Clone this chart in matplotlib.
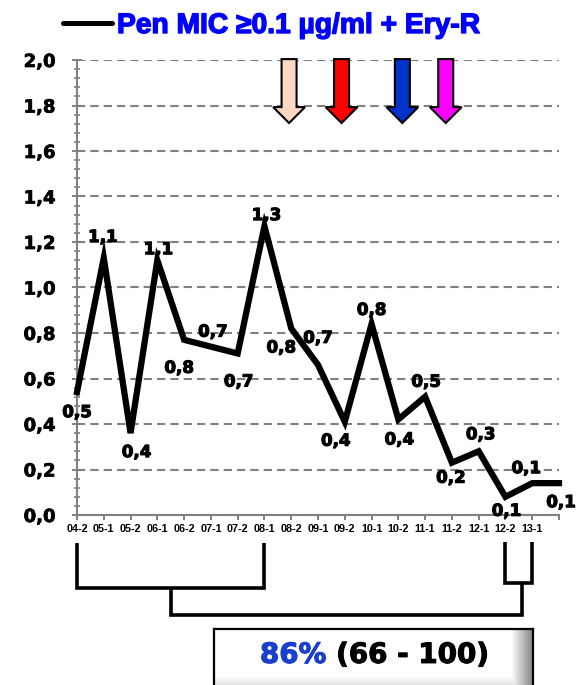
import numpy as np
import matplotlib
matplotlib.use("Agg")
import matplotlib.pyplot as plt
from matplotlib.lines import Line2D
from matplotlib.patches import Polygon
from matplotlib.ticker import MultipleLocator
import matplotlib.transforms as mtransforms
import matplotlib.patheffects as pe

# ---- data ---------------------------------------------------------------
periods = ["04-2", "05-1", "05-2", "06-1", "06-2", "07-1", "07-2", "08-1",
           "08-2", "09-1", "09-2", "10-1", "10-2", "11-1", "11-2", "12-1",
           "12-2", "13-1", ""]
rate = [0.54, 1.13, 0.36, 1.12, 0.77, 0.74, 0.71, 1.27, 0.82, 0.66,
        0.41, 0.84, 0.42, 0.52, 0.23, 0.28, 0.08, 0.14, 0.14]
# offsets of the value labels from their points (pixels, x right / y up)
label_dx = [0, -1, 6, 1, -5, 2, 1, 2, -10, 0, -9, 0, 1, 1, -1, 2, 1, -6, 2]
label_dy = [-20, 21, -19, 11, -28, 15, -28, 11, -19, 27, -19, 14, -20, 15, -15, 17, -14, 15, -19]

# intervention arrows (position on the period axis, fill colour)
arrow_pos = [7.92, 9.88, 12.15, 13.77]
arrow_col = ["#FFD8C4", "#FF0000", "#0033CC", "#FF00FF"]

title = "Pen MIC \u22650.1 \u00b5g/ml + Ery-R"
pct_main = "86%"
pct_ci = " (66 - 100)"

W, H = 587, 685
GRAY = "#808080"

fig = plt.figure(figsize=(W / 100, H / 100), dpi=100)
fig.patch.set_facecolor("white")


def fx(px):
    return px / W


def fy(py):
    return 1 - py / H


def heavy(color, w=0.7):
    return [pe.withStroke(linewidth=w, foreground=color)]


ax = fig.add_axes([fx(77), fy(515), fx(559) - fx(77), fy(60) - fy(515)])
x = np.arange(len(rate))

ax.plot(x, rate, color="black", lw=4.5, solid_joinstyle="miter", zorder=3, clip_on=False)

for xi, v, dx, dy in zip(x, rate, label_dx, label_dy):
    ax.annotate(f"{v:.1f}".replace(".", ","), (xi, v),
                xytext=(dx * 0.72, dy * 0.72), textcoords="offset points",
                ha="center", va="center", fontsize=12, fontweight="bold",
                family="DejaVu Sans", color="black", zorder=4,
                annotation_clip=False, path_effects=heavy("black", 0.8))

ax.set_xlim(0, len(rate) - 1)
ax.set_ylim(0, 2.0)
ax.set_xticks(x)
ax.set_xticklabels(periods, fontsize=7.8, fontweight="bold", family="Liberation Sans")
ax.yaxis.set_major_locator(MultipleLocator(0.2))
ax.yaxis.set_minor_locator(MultipleLocator(0.04))
ax.yaxis.set_major_formatter(matplotlib.ticker.FuncFormatter(
    lambda v, p: f"{v:.1f}".replace(".", ",")))
ax.tick_params(axis="y", which="major", direction="inout", length=7, width=1.4,
               color=GRAY, pad=12, labelsize=13)
ax.tick_params(axis="y", which="minor", direction="inout", length=5, width=1.2, color=GRAY)
ax.tick_params(axis="x", which="major", direction="out", length=3.6, width=1.4,
               color=GRAY, pad=3)
for t in ax.get_yticklabels():
    t.set_fontweight("bold")
    t.set_family("DejaVu Sans")
    t.set_path_effects(heavy("black", 0.5))

for s in ("top", "right"):
    ax.spines[s].set_visible(False)
for s in ("left", "bottom"):
    ax.spines[s].set_color(GRAY)
    ax.spines[s].set_linewidth(1.5)

ax.yaxis.grid(True, color=GRAY, linestyle=(0, (4, 2.4)), linewidth=1.5)
ax.set_axisbelow(True)

# intervention arrows
shaft_w, head_w = 0.56, 1.19
y_top, y_neck, y_tip = 2.004, 1.793, 1.723
for xc, col in zip(arrow_pos, arrow_col):
    pts = [(xc - shaft_w / 2, y_top), (xc + shaft_w / 2, y_top),
           (xc + shaft_w / 2, y_neck), (xc + head_w / 2, y_neck),
           (xc, y_tip), (xc - head_w / 2, y_neck), (xc - shaft_w / 2, y_neck)]
    ax.add_patch(Polygon(pts, closed=True, facecolor=col, edgecolor="black",
                         lw=1.5, zorder=5, clip_on=False))

# brackets grouping the compared periods
bt = mtransforms.blended_transform_factory(ax.transData, fig.transFigure)
blw = 2.6


def seg(xs, ys):
    fig.add_artist(Line2D(xs, [fy(v) for v in ys], transform=bt, color="black",
                          lw=blw, solid_capstyle="butt", solid_joinstyle="miter"))


seg([0, 0, 7, 7], [543, 588, 588, 543])
seg([16, 16, 17, 17], [542, 583, 583, 542])
seg([3.5, 3.5, 16.6, 16.6], [588, 615, 615, 583])

# title with legend line
fig.add_artist(Line2D([fx(63), fx(112)], [fy(23), fy(23)], transform=fig.transFigure,
                      color="black", lw=3.6, solid_capstyle="round"))
fig.text(fx(117), fy(33), title, ha="left", va="baseline", fontsize=20.3,
         fontweight="bold", family="Liberation Sans", color="#0000FF",
         path_effects=heavy("#0000FF", 1.0))

# result box
bx = fig.add_axes([fx(214), -0.005, fx(533) - fx(214), fy(629) + 0.005])
gh, gw = 60, 320
tx = np.linspace(0, 1, gw)[None, :]
ty = np.linspace(0, 1, gh)[:, None]
shade_h = np.where(tx > 0.93, 1 - (tx - 0.93) / 0.07 * 0.5, 1.0)
shade_v = np.where(ty > 0.8, 1 - (ty - 0.8) / 0.2 * 0.15, 1.0)
shade = np.minimum(shade_h * np.ones_like(ty), shade_v * np.ones_like(tx))
bx.imshow(shade, cmap="gray", vmin=0, vmax=1, extent=[0, 1, 0, 1], aspect="auto",
          interpolation="bilinear")
bx.set_xlim(0, 1)
bx.set_ylim(0, 1)
bx.set_xticks([])
bx.set_yticks([])
for s in bx.spines.values():
    s.set_color("black")
    s.set_linewidth(1.6)

t1 = bx.text(0.144, 0.43, pct_main, ha="left", va="baseline", fontsize=20,
             fontweight="bold", family="DejaVu Sans", color="#1A3FCC",
             path_effects=heavy("#1A3FCC", 0.8))
bx.annotate(pct_ci, xy=(1, 0), xycoords=t1, ha="left", va="bottom", fontsize=20,
            fontweight="bold", family="DejaVu Sans", color="black",
            path_effects=heavy("black", 0.8))

fig.savefig("out.png", dpi=100, facecolor="white")
